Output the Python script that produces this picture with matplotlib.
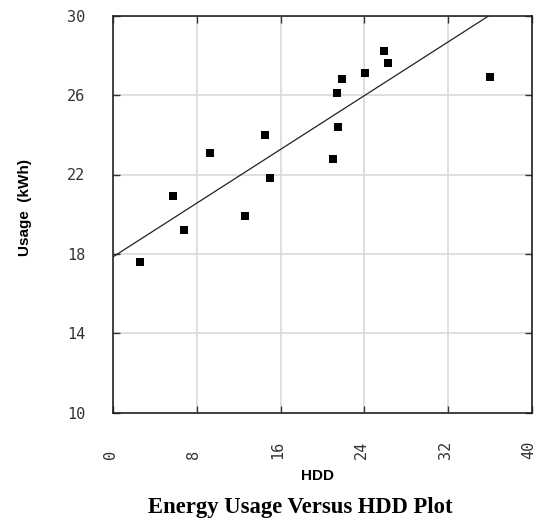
import matplotlib
matplotlib.use("Agg")
import matplotlib.pyplot as plt
import matplotlib.transforms as mtransforms
import numpy as np

hdd = [2.6, 5.7, 6.8, 9.2, 12.6, 14.5, 15.0, 21.0, 21.4, 21.5, 21.9, 24.1, 25.9, 26.3, 36.0]
usage = [17.6, 20.9, 19.2, 23.1, 19.9, 24.0, 21.8, 22.8, 26.1, 24.4, 26.8, 27.1, 28.2, 27.6, 26.9]
fit_intercept = 17.86
fit_slope = 0.338
xticks = [0, 8, 16, 24, 32, 40]
yticks = [10, 14, 18, 22, 26, 30]

fig = plt.figure(figsize=(5.40, 5.19), dpi=100)
ax = fig.add_axes([113.3/540, 1-412.7/519, (531.7-113.3)/540, (412.7-15.7)/519])

xl = np.array([0, 40])
ax.plot(xl, fit_intercept + fit_slope*xl, color='#222222', lw=0.9, zorder=3)
ax.scatter(hdd, usage, marker='s', s=30, color='black', zorder=4, linewidths=0)

ax.set_xlim(0, 40)
ax.set_ylim(10, 30)
ax.set_xticks(xticks)
ax.set_yticks(yticks)
ax.grid(True, color='#d4dbd4', lw=1.2)
ax.set_axisbelow(True)
for s in ax.spines.values():
    s.set_color('#222222')
    s.set_linewidth(1.2)
ax.tick_params(direction='in', length=5, width=1, colors='#333333',
               top=True, right=True, labelsize=11)
ax.tick_params(axis='y', pad=20.4)
ax.tick_params(axis='x', labelrotation=90, pad=33.3)
off = mtransforms.ScaledTranslation(-3/100, 0, fig.dpi_scale_trans)
for lab in ax.get_xticklabels():
    lab.set_va('bottom')
    lab.set_transform(lab.get_transform() + off)
for lab in ax.get_xticklabels() + ax.get_yticklabels():
    lab.set_color('#333333')
    lab.set_family('DejaVu Sans Mono')

fig.text(25/540, 1-207/519, 'Usage  (kWh)', rotation=90, ha='center', va='center',
         fontsize=11, fontweight='bold', family='Liberation Sans')
fig.text(318/540, 1-476.5/519, 'HDD', ha='center', va='center',
         fontsize=11, fontweight='bold', family='Liberation Sans')
fig.text(300/540, 1-507/519, 'Energy Usage Versus HDD Plot', ha='center', va='center',
         fontsize=16.3, fontweight='bold', family='Liberation Serif')

fig.savefig('out.png', dpi=100)
